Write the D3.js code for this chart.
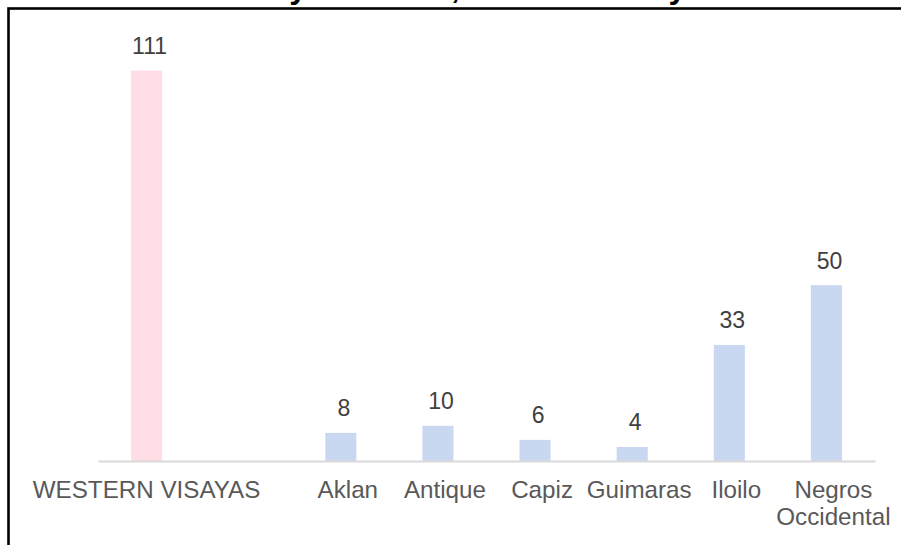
<!DOCTYPE html>
<html>
<head>
<meta charset="utf-8">
<script src="https://cdn.jsdelivr.net/npm/d3@7"></script>
<style>
  html, body { margin: 0; padding: 0; background: #fff; }
  svg { display: block; font-family: Arial, "Liberation Sans", sans-serif; }
</style>
</head>
<body>
<svg id="chart" width="901" height="545"></svg>
<script>
// Regional total followed by a spacer slot and the six provinces
const categories = ["WESTERN VISAYAS", "", "Aklan", "Antique", "Capiz", "Guimaras", "Iloilo", "Negros\nOccidental"];
const values = [111, null, 8, 10, 6, 4, 33, 50];
const isRegion = [true, false, false, false, false, false, false, false];
const yDomain = [0, 120];
const titleText = "Total by Province, Western Visayas";

const svg = d3.select("#chart");

// frame around the chart
svg.append("rect")
  .attr("x", 8.5).attr("y", 8.5)
  .attr("width", 1200).attr("height", 1200)
  .attr("fill", "none").attr("stroke", "#000").attr("stroke-width", 2.6);

// title sits mostly above the visible frame
svg.append("text")
  .attr("x", 722).attr("y", -1.7)
  .attr("text-anchor", "end")
  .attr("font-size", 32).attr("font-weight", "bold")
  .attr("fill", "#000")
  .text(titleText);

const plot = { left: 98, right: 875, bottom: 461, top: 38.9 };

const x = d3.scaleBand()
  .domain(d3.range(categories.length))
  .range([plot.left, plot.right])
  .padding(0);

const y = d3.scaleLinear().domain(yDomain).range([plot.bottom, plot.top]);

const barW = x.bandwidth() * 0.32;
const data = categories.map((c, i) => ({ i, c, v: values[i], region: isRegion[i] }))
  .filter(d => d.v != null);

svg.append("g").selectAll("rect")
  .data(data)
  .join("rect")
  .attr("x", d => x(d.i) + x.bandwidth() / 2 - barW / 2)
  .attr("y", d => y(d.v))
  .attr("width", barW)
  .attr("height", d => y(0) - y(d.v))
  .attr("fill", d => d.region ? "#FFDDE4" : "#C9D8F0");

// baseline
const axis = d3.axisBottom(x).tickSize(0).tickFormat(() => "");
const gx = svg.append("g").attr("transform", `translate(0,${plot.bottom})`).call(axis);
gx.select(".domain").attr("stroke", "#d9d9d9").attr("stroke-width", 2);

// value labels
svg.append("g").selectAll("text")
  .data(data)
  .join("text")
  .attr("x", d => x(d.i) + x.bandwidth() / 2 + 3)
  .attr("y", d => y(d.v) - 16.5)
  .attr("text-anchor", "middle")
  .attr("font-size", 23)
  .attr("fill", "#404040")
  .text(d => d.v);

// category labels (multi-line where the name is split); province labels sit a little right
const labelG = svg.append("g");
categories.forEach((c, i) => {
  if (!c) return;
  const lines = c.split("\n");
  const cx = x(i) + x.bandwidth() / 2 + (isRegion[i] ? 0 : 7);
  const t = labelG.append("text")
    .attr("text-anchor", "middle")
    .attr("font-size", 24.2)
    .attr("fill", "#595959");
  lines.forEach((ln, k) => {
    t.append("tspan").attr("x", cx).attr("y", 498.3 + k * 26.7).text(ln);
  });
});
</script>
</body>
</html>
